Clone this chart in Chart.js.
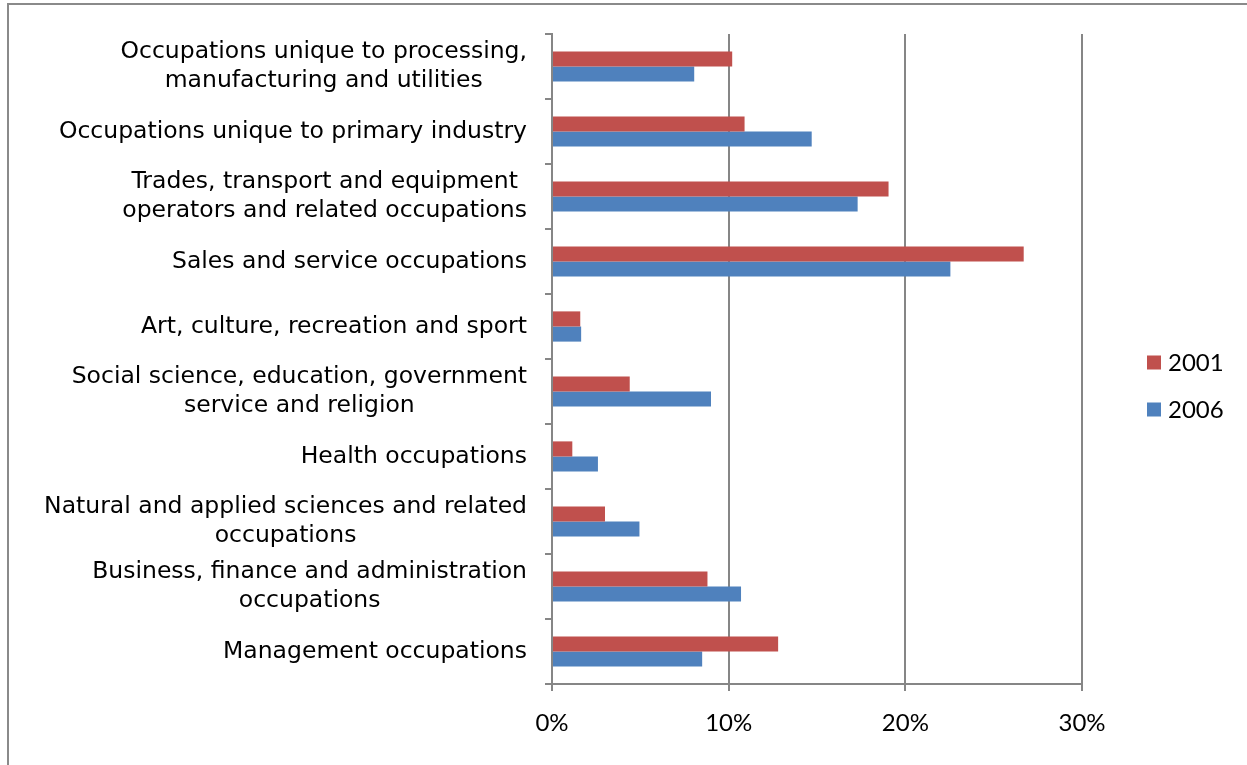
<!DOCTYPE html>
<html>
<head>
<meta charset="utf-8">
<script src="https://cdn.jsdelivr.net/npm/chart.js@4.4.0/dist/chart.umd.min.js"></script>
<style>
  html, body { margin: 0; padding: 0; background: #ffffff; overflow: hidden; }
  #wrap { position: relative; width: 1247px; height: 765px; }
  #frame { position: absolute; left: 7px; top: 3px; width: 1400px; height: 900px; border: 2px solid #8a8a8a; box-sizing: border-box; pointer-events: none; }
  canvas { position: absolute; left: 0; top: 0; }
</style>
</head>
<body>
<div id="wrap">
  <div id="frame"></div>
  <canvas id="c" width="1247" height="765"></canvas>
</div>
<script>
const categories = [
  ['Occupations unique to processing,', 'manufacturing and utilities'],
  ['Occupations unique to primary industry'],
  ['Trades, transport and equipment', 'operators and related occupations'],
  ['Sales and service occupations'],
  ['Art, culture, recreation and sport'],
  ['Social science, education, government', 'service and religion'],
  ['Health occupations'],
  ['Natural and applied sciences and related', 'occupations'],
  ['Business, finance and administration', 'occupations'],
  ['Management occupations']
];
const seriesNames = ['2001', '2006'];
const values2001 = [10.2, 10.9, 19.05, 26.7, 1.6, 4.4, 1.15, 3.0, 8.8, 12.8];
const values2006 = [8.05, 14.7, 17.3, 22.55, 1.65, 9.0, 2.6, 4.95, 10.7, 8.5];
const xTicks = [0, 10, 20, 30];

const RED = '#C0504D';
const BLUE = '#4F81BD';
const GRID = '#868686';
const LABEL_FONT = '23.5px "DejaVu Sans"';
const TICK_FONT_FAMILY = 'Lato';
const TICK_FONT_SIZE = 24;

const labelPlugin = {
  id: 'catLabels',
  afterDraw(chart) {
    const ctx = chart.ctx;
    const yScale = chart.scales.y;
    const rightEdge = yScale.right - 25;
    ctx.save();
    ctx.font = LABEL_FONT;
    ctx.fillStyle = '#000000';
    ctx.textBaseline = 'middle';
    ctx.textAlign = 'center';
    const lineH = 29;
    categories.forEach((lines, i) => {
      const yc = yScale.getPixelForValue(i);
      let maxW = 0;
      lines.forEach(l => { maxW = Math.max(maxW, ctx.measureText(l).width); });
      const cx = rightEdge - maxW / 2;
      lines.forEach((l, j) => {
        const y = yc + (j - (lines.length - 1) / 2) * lineH;
        ctx.fillText(l, cx, y);
      });
    });
    ctx.restore();
  }
};

const legendPlugin = {
  id: 'sideLegend',
  afterDraw(chart) {
    const ctx = chart.ctx;
    const area = chart.chartArea;
    const x0 = area.right + 65;
    const mid = 386;
    const gap = 47;
    ctx.save();
    ctx.font = TICK_FONT_SIZE + 'px ' + TICK_FONT_FAMILY;
    ctx.textBaseline = 'middle';
    ctx.textAlign = 'left';
    chart.data.datasets.forEach((ds, i) => {
      const y = mid + (i - (chart.data.datasets.length - 1) / 2) * gap;
      ctx.fillStyle = ds.backgroundColor;
      ctx.fillRect(x0, y - 7, 14, 14);
      ctx.fillStyle = '#000000';
      ctx.fillText(ds.label, x0 + 21, y + 1);
    });
    ctx.restore();
  }
};

new Chart(document.getElementById('c'), {
  type: 'bar',
  data: {
    labels: categories.map(l => l.join(' ')),
    datasets: [
      { label: seriesNames[0], data: values2001, backgroundColor: RED, borderWidth: 0 },
      { label: seriesNames[1], data: values2006, backgroundColor: BLUE, borderWidth: 0 }
    ]
  },
  options: {
    indexAxis: 'y',
    responsive: false,
    animation: false,
    devicePixelRatio: 1,
    layout: { padding: { top: 34, right: 165, left: 0, bottom: 0 } },
    datasets: { bar: { categoryPercentage: 0.465, barPercentage: 1.0 } },
    plugins: { legend: { display: false }, tooltip: { enabled: false } },
    scales: {
      x: {
        min: xTicks[0],
        max: xTicks[xTicks.length - 1],
        afterBuildTicks(scale) { scale.ticks = xTicks.map(v => ({ value: v })); },
        afterFit(scale) { scale.height = 81; },
        grid: { color: GRID, lineWidth: 2, drawTicks: true, tickLength: 7, tickColor: GRID },
        border: { display: true, color: GRID, width: 2 },
        ticks: {
          callback: v => v + '%',
          color: '#000000',
          padding: 18,
          font: { family: TICK_FONT_FAMILY, size: TICK_FONT_SIZE }
        }
      },
      y: {
        afterFit(scale) { scale.width = 552; },
        grid: { display: true, drawOnChartArea: false, drawTicks: true, tickLength: 7, offset: true, color: GRID, lineWidth: 2 },
        border: { display: true, color: GRID, width: 2 },
        ticks: { display: false }
      }
    }
  },
  plugins: [labelPlugin, legendPlugin]
});
</script>
</body>
</html>
